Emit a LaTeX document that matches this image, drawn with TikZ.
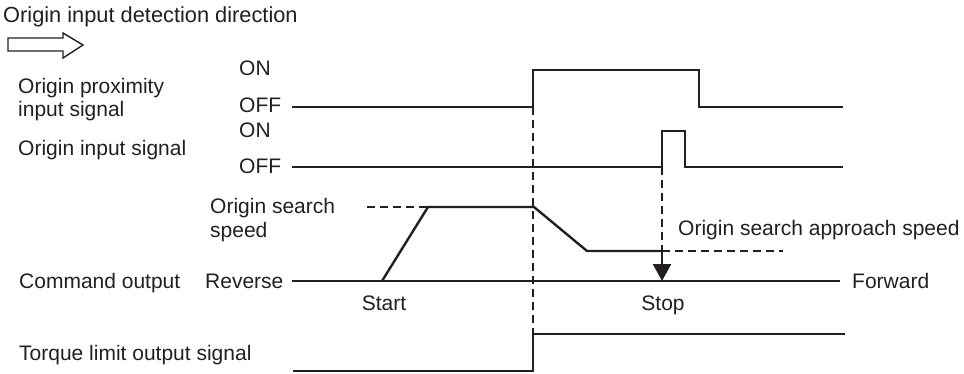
\documentclass[tikz,border=0pt]{standalone}
\usepackage{fontspec}
\setmainfont{Liberation Sans}
\usetikzlibrary{arrows.meta}
\definecolor{ink}{RGB}{35,31,32}

\begin{document}
\begin{tikzpicture}[
    x=1pt, y=-1pt,
    every node/.style={inner sep=0pt, text=ink, font=\fontsize{21}{24}\selectfont},
    txt/.style={anchor=base west},
    sig/.style={draw=ink, line width=2.4pt},
    guide/.style={draw=ink, line width=1.9pt, dash pattern=on 8pt off 5pt}
]
    \useasboundingbox (0,0) rectangle (964,373);

    % direction of detection
    \node[txt, font=\fontsize{21.8}{24}\selectfont] (title) at (3,22) {Origin input detection direction};
    \draw[ink, line width=1.4pt] (8,38) -- (63,38) -- (63,33) -- (83,45) -- (63,58) -- (63,51) -- (8,51) -- cycle;

    % signal names
    \node[txt] (proxA) at (18,93) {Origin proximity};
    \node[txt] (proxB) at (18,116) {input signal};
    \node[txt] (orig) at (18,155) {Origin input signal};
    \node[txt] (cmd) at (19,288) {Command output};
    \node[txt] (torque) at (19,360) {Torque limit output signal};

    % levels and marks
    \node[txt] (onA) at (239,75) {ON};
    \node[txt] (offA) at (239,112) {OFF};
    \node[txt] (onB) at (239,137) {ON};
    \node[txt] (offB) at (239,173) {OFF};
    \node[txt] (rev) at (205,288) {Reverse};
    \node[txt] (fwd) at (852,288) {Forward};
    \node[txt] (ospA) at (210,213) {Origin search};
    \node[txt] (ospB) at (210,237) {speed};
    \node[txt] (apr) at (678,235) {Origin search approach speed};
    \node[anchor=base] (start) at (384,310) {Start};
    \node[anchor=base] (stop) at (663,310) {Stop};

    % waveforms
    \coordinate (edge) at (533,107);
    \coordinate (hit) at (662,167);
    \coordinate (slow) at (662,251);
    \draw[sig] (292,107) -- (edge) -- (533,70) -- (699,70) -- (699,107) -- (843,107);
    \draw[sig] (292,167) -- (hit) -- (662,131) -- (685,131) -- (685,167) -- (843,167);
    \draw[sig] (292,281) -- (840,281);
    \draw[sig] (382,281) -- (428,207) -- (534,207) -- (587,251) -- (slow);
    \draw[sig] (293,371) -- (533,371) -- (533,334) -- (845,334);
    \draw[guide] (367,207) -- (428,207);
    \draw[guide] (slow) -- (783,251);
    \draw[guide] (edge) -- (533,334);
    \draw[guide] (hit) -- (slow);
    \draw[sig, -{Triangle[length=17pt, width=18pt]}] (slow) -- (662,281);
\end{tikzpicture}
\end{document}
